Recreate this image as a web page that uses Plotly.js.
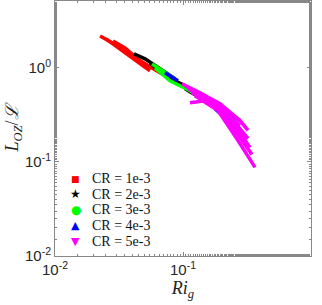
<!DOCTYPE html>
<html><head><meta charset="utf-8">
<script src="https://cdn.plot.ly/plotly-3.0.1.min.js"></script>
<style>html,body{margin:0;padding:0;background:#fff}</style>
</head><body><div id="c" style="width:322px;height:305px"></div>
<script>
// Series data (Ri_g, L_OZ/L); null separates individual curves
const redX = [0.0225,0.0310,0.0422,0.0552,null,0.0284,0.0352,0.0461,0.0661,0.0982,null,0.0250,0.0385,0.0552];
const redY = [2.18,1.71,1.28,1.02,null,1.93,1.63,1.186,0.885,0.661,null,2.03,1.34,0.930];
const blackX = [0.0414,0.0505,0.0661,0.0866,null,0.0552,0.0723,0.1037,null,0.1037,0.1358,0.1625];
const blackY = [1.41,1.245,0.976,0.765,null,1.13,0.823,0.645,null,0.600,0.481,0.426];
const greenX = [0.0573,0.0686,0.0866,null,0.0604,0.0791,0.1134,0.1540,0.2208];
const greenY = [1.10,0.930,0.765,null,1.0,0.729,0.571,0.447,0.351];
const blueX = [0.0723,0.0914,null,0.1625,0.2129,0.2787,null,0.1778,0.2329,0.2548];
const blueY = [0.885,0.729,null,0.426,0.351,0.275,null,0.368,0.262,0.191];
const magX = [0.0982,0.1358,0.1945,0.2787,0.3221,null,0.1037,0.1486,0.2129,0.2787,0.3221,null,
              0.1094,0.1625,0.2329,0.3336,null,0.1175,0.1778,0.2548,0.3458,null,
              0.1241,0.1875,0.2691,0.3652,null,0.1134,0.1486,0.1945,0.2787];
const magY = [0.677,0.544,0.416,0.275,0.216,null,0.645,0.493,0.351,0.226,0.177,null,
              0.600,0.447,0.289,0.142,null,0.544,0.396,0.216,0.120,null,
              0.505,0.351,0.169,0.0874,null,0.426,0.447,0.368,0.243];
const labels = ['CR = 1e-3','CR = 2e-3','CR = 3e-3','CR = 4e-3','CR = 5e-3'];
const colors = ['#ff0000','#000000','#00ff00','#0000ff','#ff00ff'];
const legendGlyphs = ['■','★','●','▲','▼'];
const xTickVals = [0.01,0.1,1];
const xTickText = ['10<sup>-2</sup>','10<sup>-1</sup>','10<sup>0</sup>'];
const yTickVals = [0.01,0.1,1];
const yTickText = ['10<sup>-2</sup>','10<sup>-1</sup>','10<sup>0</sup>'];

const xs=[redX,blackX,greenX,blueX,magX], ys=[redY,blackY,greenY,blueY,magY];
const traces=[];
for(let i=0;i<5;i++){
  traces.push({x:xs[i],y:ys[i],type:'scatter',mode:'lines',connectgaps:false,name:labels[i],
    line:{color:colors[i],width:3.5},showlegend:false,hoverinfo:'skip'});
}
// legend drawn as text (symbol + label) to reproduce the compact MATLAB legend
const legX0=0.082, legTextX=0.137, legY0=0.302, legDy=0.0608;
const glyphSizes=[9,12,12,11,11];
const annotations=[];
for(let i=0;i<5;i++){
  const yy=legY0-i*legDy;
  annotations.push({xref:'paper',yref:'paper',x:legX0,y:yy,xanchor:'center',yanchor:'middle',showarrow:false,
    text:legendGlyphs[i],font:{family:'DejaVu Sans',size:glyphSizes[i],color:colors[i]}});
  annotations.push({xref:'paper',yref:'paper',x:legTextX,y:yy,xanchor:'left',yanchor:'middle',showarrow:false,
    text:labels[i],font:{family:'Liberation Serif, Times New Roman, serif',size:14,color:'#111'}});
}
const axisCommon={type:'log',showgrid:false,zeroline:false,showline:true,linecolor:'#888',linewidth:1,
  mirror:'allticks',ticks:'inside',ticklen:4,tickcolor:'#888',
  tickfont:{family:'Liberation Sans, Arial, sans-serif',size:15,color:'#262626'},
  minor:{ticks:'inside',ticklen:2,tickcolor:'#888',showgrid:false}};
const layout={width:322,height:305,margin:{l:55,r:11,t:1,b:49},
  paper_bgcolor:'#fff',plot_bgcolor:'#fff',
  xaxis:Object.assign({},axisCommon,{range:[-2,0],tickvals:xTickVals,ticktext:xTickText,
    title:{text:'<i>Ri</i><sub><i>g</i></sub>',font:{family:'Liberation Serif, Times New Roman, serif',size:18,color:'#222'},standoff:4}}),
  yaxis:Object.assign({},axisCommon,{range:[-2,0.71],tickvals:yTickVals,ticktext:yTickText,
    title:{text:'<i>L</i><sub><i>OZ</i></sub>/<i>ℒ</i>',font:{family:'Liberation Serif, Times New Roman, serif',size:18,color:'#222'},standoff:1}}),
  showlegend:false,
  annotations:annotations
};
Plotly.newPlot('c',traces,layout,{staticPlot:true,displayModeBar:false});
</script></body></html>
